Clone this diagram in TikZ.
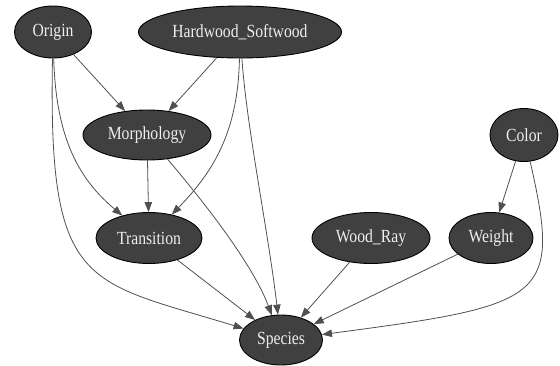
\documentclass[tikz,border=0pt]{standalone}
\usepackage{fontspec}
\setmainfont{Liberation Serif}
\usepackage{graphicx}
\usetikzlibrary{shapes.geometric,arrows.meta}

% node labels: Times-like, slightly tall
\newcommand{\vlabel}[1]{\scalebox{1}[1.18]{#1}}

\definecolor{nodefill}{HTML}{404040}
\definecolor{edgecol}{HTML}{505050}
\definecolor{labelcol}{HTML}{EEEEEE}

\tikzset{
  var/.style={ellipse, draw=black, line width=0.9pt, fill=nodefill,
    text=labelcol, inner sep=0pt,
    font=\fontsize{15.7}{18}\selectfont},
  link/.style={draw=edgecol, line width=0.8pt,
    -{Triangle[length=10pt,width=7.5pt]}, fill=none},
}

\begin{document}
\begin{tikzpicture}[x=1pt,y=-1pt]
  \useasboundingbox (0,0) rectangle (560,365);

  % variables
  \node[var, minimum width=77pt,  minimum height=52pt] (origin)     at (53,32)   {\vlabel{Origin}};
  \node[var, minimum width=203pt, minimum height=52pt] (hardwood)   at (240,32)  {\vlabel{Hardwood\_Softwood}};
  \node[var, minimum width=128pt, minimum height=50pt] (morphology) at (147,135) {\vlabel{Morphology}};
  \node[var, minimum width=68pt,  minimum height=53pt] (color)      at (524,135) {\vlabel{Color}};
  \node[var, minimum width=106pt, minimum height=51pt] (transition) at (149,238) {\vlabel{Transition}};
  \node[var, minimum width=118pt, minimum height=51pt] (woodray)    at (371,238) {\vlabel{Wood\_Ray}};
  \node[var, minimum width=84pt,  minimum height=51pt] (weight)     at (491,238) {\vlabel{Weight}};
  \node[var, minimum width=83pt,  minimum height=50pt] (species)    at (281,340) {\vlabel{Species}};

  % dependencies
  \draw[link] (origin) -- (morphology);
  \draw[link] (hardwood) -- (morphology);
  \draw[link] (origin) .. controls (56,140) and (80,180) .. (transition);
  \draw[link] (origin) .. controls (48,290) and (85,280) .. (species);
  \draw[link] (hardwood) .. controls (238,130) and (215,170) .. (transition);
  \draw[link] (hardwood) .. controls (247,130) and (268,230) .. (species);
  \draw[link] (morphology) -- (transition);
  \draw[link] (morphology) .. controls (215,215) and (255,270) .. (species);
  \draw[link] (transition) -- (species);
  \draw[link] (woodray) -- (species);
  \draw[link] (weight) -- (species);
  \draw[link] (color) -- (weight);
  \draw[link] (color) .. controls (562,300) and (545,305) .. (species);
\end{tikzpicture}
\end{document}
